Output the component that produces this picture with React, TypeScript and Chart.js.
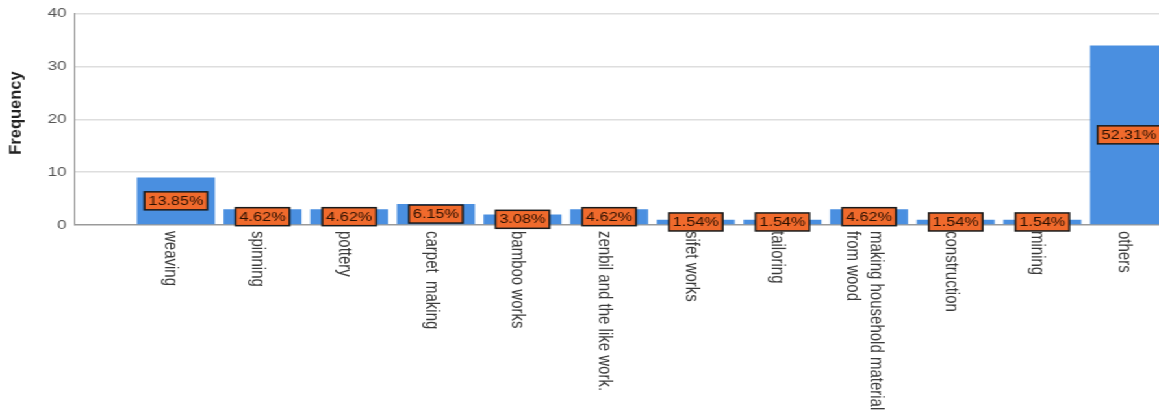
import React, { useEffect, useRef } from "react";
import { Chart, registerables } from "chart.js";

Chart.register(...registerables);

// ---- data ----
const categories: (string | string[])[] = [
  "weaving",
  "spinning",
  "pottery",
  "carpet  making",
  "bamboo works",
  "zenbil and the like work.",
  "sifet works",
  "tailoring",
  ["making household material", "from wood"],
  "construction",
  "mining",
  "others",
];
const frequencies: number[] = [9, 3, 3, 4, 2, 3, 1, 1, 3, 1, 1, 34];
const percentLabels: string[] = [
  "13.85%", "4.62%", "4.62%", "6.15%", "3.08%", "4.62%",
  "1.54%", "1.54%", "4.62%", "1.54%", "1.54%", "52.31%",
];
const yTicks: number[] = [0, 10, 20, 30, 40];
const yTitle = "Frequency";

// ---- layout (internal canvas, stretched horizontally by CSS) ----
const STRETCH = 1.3;
const SCREEN_W = 1159;
const H = 417;
const W = Math.round(SCREEN_W / STRETCH);

const BAR_COLOR = "#4a8fe0";
const BOX_FILL = "#f06a2c";

const percentBoxes = {
  id: "percentBoxes",
  afterDatasetsDraw(chart: any) {
    const meta = chart.getDatasetMeta(0);
    const ctx = chart.ctx;
    ctx.save();
    ctx.font = "12.5px 'Liberation Sans', Arial, sans-serif";
    ctx.textAlign = "center";
    ctx.textBaseline = "middle";
    meta.data.forEach((el: any, i: number) => {
      const txt = percentLabels[i];
      const cx = el.x;
      const cy = (el.y + el.base) / 2;
      const tw = ctx.measureText(txt).width;
      const bw = tw + 6;
      const bh = 18;
      ctx.fillStyle = BOX_FILL;
      ctx.fillRect(cx - bw / 2, cy - bh / 2, bw, bh);
      ctx.lineWidth = 1.5;
      ctx.strokeStyle = "#1a1a1a";
      ctx.strokeRect(cx - bw / 2, cy - bh / 2, bw, bh);
      ctx.fillStyle = "#2a1000";
      ctx.fillText(txt, cx, cy + 0.5);
    });
    ctx.restore();
  },
};

const categoryLabels = {
  id: "categoryLabels",
  afterDraw(chart: any) {
    const xScale = chart.scales.x;
    const area = chart.chartArea;
    const ctx = chart.ctx;
    ctx.save();
    ctx.font = "15px 'Liberation Sans', Arial, sans-serif";
    ctx.fillStyle = "#3a3a3a";
    ctx.textAlign = "left";
    ctx.textBaseline = "middle";
    const lineH = 18;
    categories.forEach((lab, i) => {
      const lines = Array.isArray(lab) ? lab : [lab];
      const px = xScale.getPixelForValue(i);
      const n = lines.length;
      lines.forEach((ln, k) => {
        const dx = -3.8 + ((n - 1) / 2) * lineH - k * lineH;
        ctx.save();
        ctx.translate(px + dx, area.bottom + 6);
        ctx.rotate(Math.PI / 2);
        ctx.fillText(ln, 0, 0);
        ctx.restore();
      });
    });
    // y axis title
    ctx.save();
    ctx.translate(12.7, 113);
    ctx.rotate(-Math.PI / 2);
    ctx.scale(1, 0.8);
    ctx.font = "bold 16.5px 'Liberation Sans', Arial, sans-serif";
    ctx.fillStyle = "#222";
    ctx.textAlign = "center";
    ctx.textBaseline = "middle";
    ctx.fillText(yTitle, 0, 0);
    ctx.restore();
    ctx.restore();
  },
};

export default function App() {
  const ref = useRef<HTMLCanvasElement | null>(null);

  useEffect(() => {
    if (!ref.current) return;
    const chart = new Chart(ref.current, {
      type: "bar",
      data: {
        datasets: [
          {
            data: frequencies.map((v, i) => ({ x: i, y: v })),
            backgroundColor: BAR_COLOR,
            borderWidth: 0,
            barPercentage: 0.9,
            categoryPercentage: 1.0,
          },
        ],
      },
      options: {
        animation: false,
        responsive: false,
        devicePixelRatio: 1,
        layout: { padding: { top: 12, bottom: H - 225, left: 0, right: 0 } },
        plugins: {
          legend: { display: false },
          tooltip: { enabled: false },
        },
        scales: {
          x: {
            type: "linear",
            offset: false,
            min: -1.171,
            max: 11.346,
            display: false,
          },
          y: {
            min: 0,
            max: 40,
            afterBuildTicks: (scale: any) => {
              scale.ticks = yTicks.map((v) => ({ value: v }));
            },
            afterFit: (scale: any) => {
              scale.width = 57.3;
            },
            border: { display: true, color: "#8c8c8c", width: 1 },
            grid: {
              drawTicks: false,
              lineWidth: 1.6,
              color: (ctx: any) =>
                ctx.tick && ctx.tick.value === 0 ? "#9a9a9a" : "#dedede",
            },
            ticks: {
              padding: 6,
              color: "#555",
              font: { family: "'Liberation Sans', Arial, sans-serif", size: 13 },
            },
          },
        },
      },
      plugins: [percentBoxes, categoryLabels],
    });
    return () => chart.destroy();
  }, []);

  return (
    <div
      style={{
        position: "fixed",
        left: 0,
        top: 0,
        width: W + "px",
        height: H + "px",
        transform: `scaleX(${SCREEN_W / W})`,
        transformOrigin: "0 0",
        background: "#fff",
      }}
    >
      <canvas ref={ref} width={W} height={H} style={{ width: W + "px", height: H + "px" }} />
    </div>
  );
}
